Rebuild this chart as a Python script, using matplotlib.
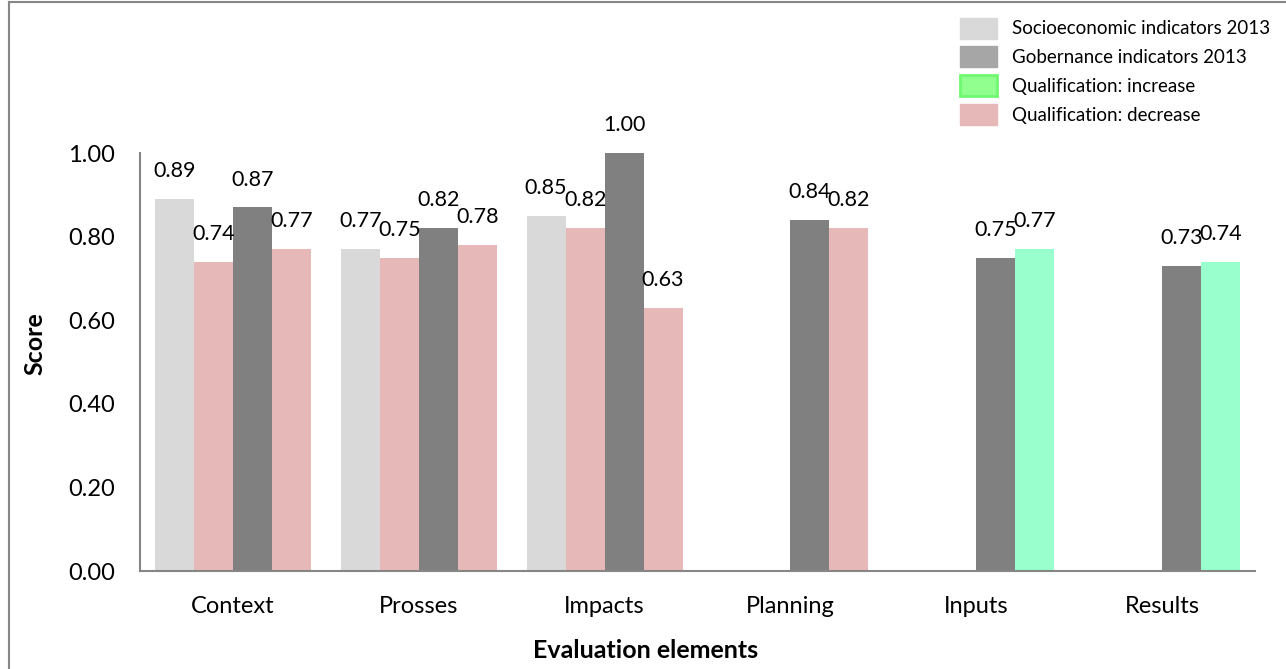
import matplotlib
matplotlib.use('Agg')
import matplotlib.pyplot as plt
import numpy as np
from matplotlib.patches import Patch
from matplotlib.lines import Line2D

plt.rcParams['font.family'] = ['Lato', 'DejaVu Sans']

# --- data ---
elements = ['Context', 'Prosses', 'Impacts', 'Planning', 'Inputs', 'Results']
socio_2013 = [0.89, 0.77, 0.85, None, None, None]
socio_qual = [0.74, 0.75, 0.82, None, None, None]
gober_2013 = [0.87, 0.82, 1.00, 0.84, 0.75, 0.73]
gober_qual = [0.77, 0.78, 0.63, 0.82, 0.77, 0.74]

c_socio = '#D9D9D9'
c_gober = '#808080'
c_up = '#99FFCC'
c_down = '#E6B8B7'

fig = plt.figure(figsize=(12.86, 6.69), dpi=100)
ax = fig.add_axes([140/1286, 1 - 571/669, (1255 - 140)/1286, (571 - 153)/669])

x = np.arange(len(elements))
w = 0.21


def qual_color(base, q):
    return c_up if q > base else c_down


def label(xpos, val):
    ax.annotate(f'{val:.2f}', (xpos, val), xytext=(0, 20), textcoords='offset points',
                ha='center', va='center', fontsize=15.5, clip_on=False)


for i in range(len(elements)):
    if socio_2013[i] is not None:
        ax.bar(x[i] - 1.5*w, socio_2013[i], w, color=c_socio)
        ax.bar(x[i] - 0.5*w, socio_qual[i], w, color=qual_color(socio_2013[i], socio_qual[i]))
        label(x[i] - 1.5*w, socio_2013[i])
        label(x[i] - 0.5*w, socio_qual[i])
    ax.bar(x[i] + 0.5*w, gober_2013[i], w, color=c_gober)
    ax.bar(x[i] + 1.5*w, gober_qual[i], w, color=qual_color(gober_2013[i], gober_qual[i]))
    label(x[i] + 0.5*w, gober_2013[i])
    label(x[i] + 1.5*w, gober_qual[i])

ax.set_xlim(-0.5, len(elements) - 0.5)
ax.set_ylim(0, 1.0)
ax.set_yticks(np.arange(0, 1.01, 0.2))
ax.set_yticklabels([f'{t:.2f}' for t in np.arange(0, 1.01, 0.2)])
ax.set_xticks(x)
ax.set_xticklabels(elements)
ax.tick_params(axis='y', length=0, pad=18, labelsize=17)
ax.tick_params(axis='x', length=0, pad=18, labelsize=17)
for s in ['top', 'right']:
    ax.spines[s].set_visible(False)
for s in ['left', 'bottom']:
    ax.spines[s].set_color('#868686')
    ax.spines[s].set_linewidth(1.5)

fig.text(35/1286, 1 - 344/669, 'Score', rotation=90, ha='center', va='center',
         fontsize=18, fontweight='bold')
fig.text(646/1286, 1 - 650/669, 'Evaluation elements', ha='center', va='center',
         fontsize=18, fontweight='bold')

handles = [
    Patch(facecolor=c_socio, edgecolor=c_socio),
    Patch(facecolor='#A6A6A6', edgecolor='#A6A6A6'),
    Patch(facecolor='#90FF90', edgecolor='#70F870', linewidth=2),
    Patch(facecolor=c_down, edgecolor=c_down),
]
names = ['Socioeconomic indicators 2013', 'Gobernance indicators 2013',
         'Qualification: increase', 'Qualification: decrease']
fig.legend(handles, names, loc='upper left', bbox_to_anchor=(952/1286, 1 - 10/669),
           frameon=False, fontsize=13.5, handlelength=2.0, handleheight=1.35,
           labelspacing=0.42, handletextpad=0.8, borderaxespad=0)

# outer frame
fig.add_artist(Line2D([9/1286, 9/1286], [0, 1 - 2/669], transform=fig.transFigure,
                      color='#868686', linewidth=1.5))
fig.add_artist(Line2D([9/1286, 1], [1 - 2/669, 1 - 2/669], transform=fig.transFigure,
                      color='#868686', linewidth=1.5))

fig.savefig('out.png', dpi=100)
